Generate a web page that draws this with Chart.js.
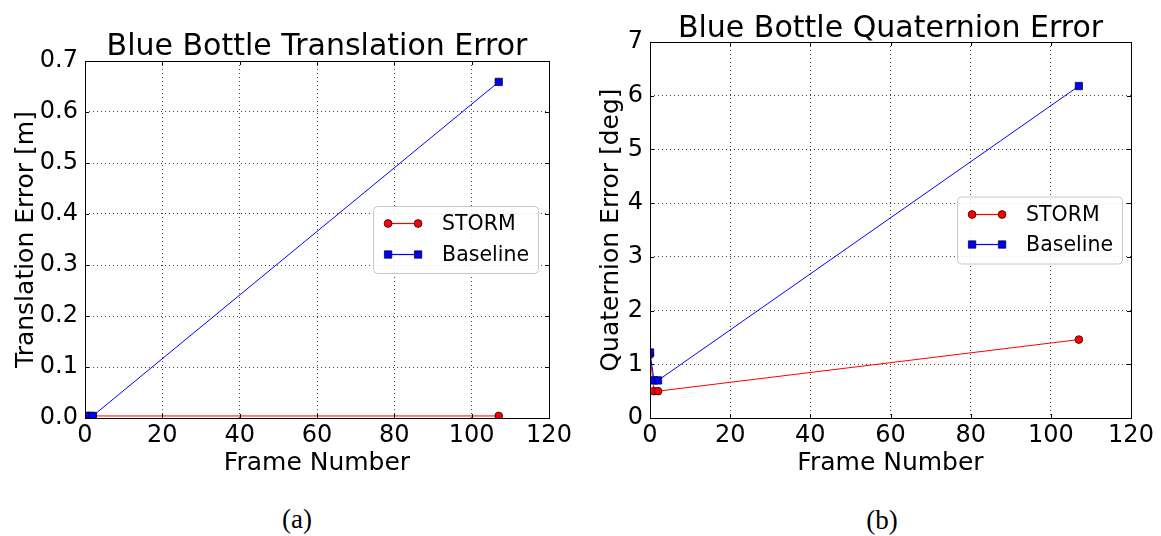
<!DOCTYPE html>
<html>
<head>
<meta charset="utf-8">
<script src="https://cdn.jsdelivr.net/npm/chart.js@4.4.0/dist/chart.umd.min.js"></script>
<style>
    body { margin: 0; background: #fff; width: 1161px; height: 536px; position: relative; overflow: hidden; }
    .panel { position: absolute; top: 0; height: 490px; }
    .caption { position: absolute; font-family: "Liberation Serif", "DejaVu Serif", serif; font-size: 27px; color: #000; transform: translate(-50%, -50%); }
</style>
</head>
<body>
<div class="panel" style="left:0; width:580px;"><canvas id="translationChart" width="580" height="490"></canvas></div>
<div class="panel" style="left:580px; width:581px;"><canvas id="quaternionChart" width="581" height="490"></canvas></div>
<div class="caption" style="left:297px; top:519px;">(a)</div>
<div class="caption" style="left:882px; top:520px;">(b)</div>
<script>
// Data
const frames = [0, 1, 2, 107];
const stormTranslation = [0.004, 0.004, 0.004, 0.004];
const baselineTranslation = [0.004, 0.004, 0.004, 0.659];
const stormQuaternion = [1.18, 0.5, 0.5, 1.46];
const baselineQuaternion = [1.22, 0.7, 0.7, 6.18];

const frameTicks = [0, 20, 40, 60, 80, 100, 120];
const translationTicks = [0, 0.1, 0.2, 0.3, 0.4, 0.5, 0.6, 0.7];
const quaternionTicks = [0, 1, 2, 3, 4, 5, 6, 7];

Chart.defaults.font.family = '"DejaVu Sans", sans-serif';
Chart.defaults.color = '#000';

function toPoints(values) {
    return values.map((v, i) => ({ x: frames[i], y: v }));
}

function drawMarker(ctx, style, x, y, color) {
    ctx.beginPath();
    if (style === 'rect') {
        ctx.rect(x - 3.7, y - 3.7, 7.4, 7.4);
    } else {
        ctx.arc(x, y, 3.9, 0, Math.PI * 2);
    }
    ctx.fillStyle = color;
    ctx.fill();
    ctx.lineWidth = 0.7;
    ctx.strokeStyle = '#000';
    ctx.stroke();
}

// box around the plot, small inward ticks and the title centred over the plot
const framePlugin = {
    id: 'frame',
    afterDatasetsDraw(chart, args, opts) {
        const { ctx, chartArea: a } = chart;
        const xs = chart.scales.x, ys = chart.scales.y;
        ctx.save();
        ctx.strokeStyle = '#000';
        ctx.lineWidth = 1;
        ctx.beginPath();
        xs.ticks.forEach(t => {
            const px = Math.round(xs.getPixelForValue(t.value)) + 0.5;
            ctx.moveTo(px, a.bottom); ctx.lineTo(px, a.bottom - 4);
            ctx.moveTo(px, a.top); ctx.lineTo(px, a.top + 4);
        });
        ys.ticks.forEach(t => {
            const py = Math.round(ys.getPixelForValue(t.value)) + 0.5;
            ctx.moveTo(a.left, py); ctx.lineTo(a.left + 4, py);
            ctx.moveTo(a.right, py); ctx.lineTo(a.right - 4, py);
        });
        ctx.stroke();
        ctx.strokeRect(Math.round(a.left) + 0.5, Math.round(a.top) + 0.5,
            Math.round(a.right - a.left), Math.round(a.bottom - a.top));

        ctx.font = '30px "DejaVu Sans"';
        ctx.fillStyle = '#000';
        ctx.textAlign = 'center';
        ctx.textBaseline = 'alphabetic';
        ctx.fillText(opts.title, (a.left + a.right) / 2, opts.titleBaseline);
        ctx.restore();
    }
};

// legend box placed at center right inside the plot
const boxLegendPlugin = {
    id: 'boxLegend',
    afterDraw(chart, args, opts) {
        const { ctx, chartArea: a } = chart;
        const items = chart.data.datasets;
        ctx.save();
        ctx.font = opts.fontSize + 'px "DejaVu Sans"';
        const textW = Math.max(...items.map(d => ctx.measureText(d.label).width));
        const w = 15 + 30 + 24 + textW + 9;
        const h = 67;
        const x = a.right - opts.gap - w;
        const y = (a.top + a.bottom) / 2 - h / 2;

        ctx.beginPath();
        if (ctx.roundRect) ctx.roundRect(x + 0.5, y + 0.5, w, h, 4);
        else ctx.rect(x + 0.5, y + 0.5, w, h);
        ctx.fillStyle = 'rgba(255,255,255,0.85)';
        ctx.fill();
        ctx.strokeStyle = '#c8c8c8';
        ctx.lineWidth = 1;
        ctx.stroke();

        items.forEach((d, i) => {
            const cy = Math.round(y + 17 + i * 30.5) + 0.5;
            ctx.beginPath();
            ctx.moveTo(x + 15, cy);
            ctx.lineTo(x + 45, cy);
            ctx.strokeStyle = d.borderColor;
            ctx.lineWidth = 1.2;
            ctx.stroke();
            drawMarker(ctx, d.pointStyle, x + 15, cy, d.backgroundColor);
            drawMarker(ctx, d.pointStyle, x + 45, cy, d.backgroundColor);
            ctx.fillStyle = '#000';
            ctx.textBaseline = 'middle';
            ctx.textAlign = 'left';
            ctx.fillText(d.label, x + 69, cy + 1);
        });
        ctx.restore();
    }
};

function makeDatasets(stormValues, baselineValues) {
    return [
        {
            label: 'STORM',
            data: toPoints(stormValues),
            showLine: true,
            borderColor: '#ff0000',
            backgroundColor: '#ff0000',
            borderWidth: 1,
            pointStyle: 'circle',
            pointRadius: 3.9,
            pointBorderColor: '#000',
            pointBorderWidth: 0.7,
            order: 1
        },
        {
            label: 'Baseline',
            data: toPoints(baselineValues),
            showLine: true,
            borderColor: '#0000ff',
            backgroundColor: '#0000ff',
            borderWidth: 1,
            pointStyle: 'rect',
            pointRadius: 5.2,
            pointBorderColor: '#000',
            pointBorderWidth: 0.7,
            order: 0
        }
    ];
}

function makeChart(canvasId, cfg) {
    const gridStyle = { color: '#444', lineWidth: 1, drawTicks: false };
    return new Chart(document.getElementById(canvasId), {
        type: 'scatter',
        data: { datasets: makeDatasets(cfg.storm, cfg.baseline) },
        options: {
            responsive: false,
            animation: false,
            events: [],
            layout: { padding: { left: 0, right: cfg.padRight, top: cfg.plotTop, bottom: 12 } },
            plugins: {
                legend: { display: false },
                tooltip: { enabled: false },
                frame: { title: cfg.title, titleBaseline: cfg.titleBaseline },
                boxLegend: { fontSize: 20.5, gap: cfg.legendGap }
            },
            scales: {
                x: {
                    type: 'linear',
                    min: 0,
                    max: 120,
                    afterBuildTicks: s => { s.ticks = frameTicks.map(v => ({ value: v })); },
                    afterFit: s => { s.height = 60; },
                    grid: gridStyle,
                    border: { display: false, dash: [1, 3] },
                    ticks: { font: { size: 24 }, padding: 3, maxRotation: 0, callback: v => String(v) },
                    title: { display: true, text: 'Frame Number', font: { size: 25 }, padding: { top: 0, bottom: 0 } }
                },
                y: {
                    type: 'linear',
                    min: cfg.yTicks[0],
                    max: cfg.yTicks[cfg.yTicks.length - 1],
                    afterBuildTicks: s => { s.ticks = cfg.yTicks.map(v => ({ value: v })); },
                    afterFit: s => { s.width = cfg.yWidth; },
                    grid: gridStyle,
                    border: { display: false, dash: [1, 3] },
                    ticks: { font: { size: 24 }, padding: 7, callback: cfg.yFormat },
                    title: { display: true, text: cfg.yTitle, font: { size: 25 }, padding: { top: cfg.yTitlePad, bottom: 0 } }
                }
            }
        },
        plugins: [framePlugin, boxLegendPlugin]
    });
}

makeChart('translationChart', {
    title: 'Blue Bottle Translation Error',
    yTitle: 'Translation Error [m]',
    storm: stormTranslation,
    baseline: baselineTranslation,
    yTicks: translationTicks,
    yFormat: v => Number(v).toFixed(1),
    yWidth: 85,
    yTitlePad: 11,
    padRight: 31,
    plotTop: 61,
    titleBaseline: 55,
    legendGap: 11
});

makeChart('quaternionChart', {
    title: 'Blue Bottle Quaternion Error',
    yTitle: 'Quaternion Error [deg]',
    storm: stormQuaternion,
    baseline: baselineQuaternion,
    yTicks: quaternionTicks,
    yFormat: v => String(v),
    yWidth: 70,
    yTitlePad: 16,
    padRight: 30,
    plotTop: 42,
    titleBaseline: 37,
    legendGap: 9
});
</script>
</body>
</html>
